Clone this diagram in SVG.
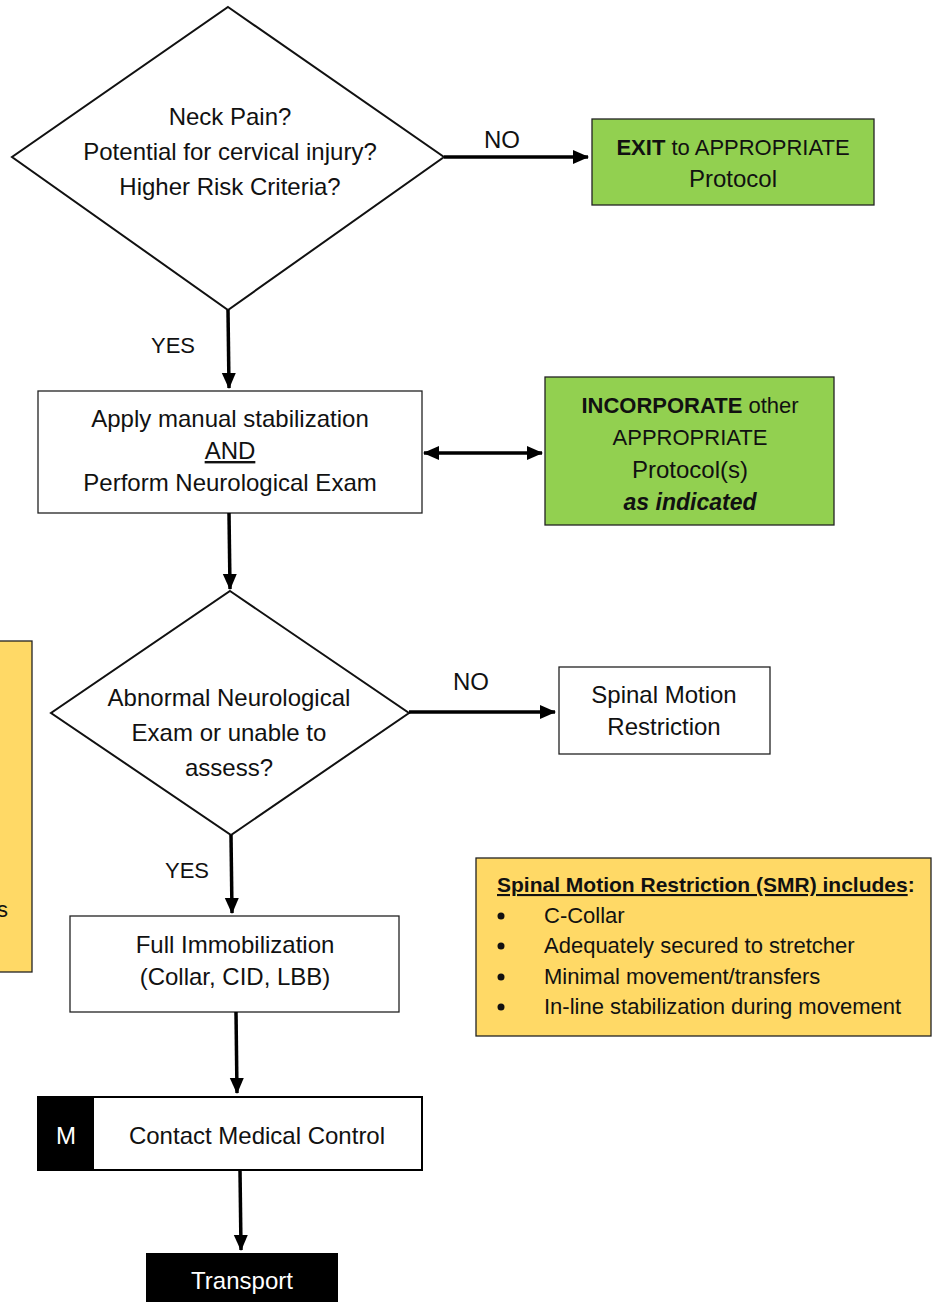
<svg xmlns="http://www.w3.org/2000/svg" width="937" height="1302" viewBox="0 0 937 1302">
<defs>
<marker id="ah" markerUnits="userSpaceOnUse" markerWidth="16" markerHeight="16" viewBox="0 0 16 16" refX="15" refY="8" orient="auto-start-reverse">
<path d="M0,1 L16,8 L0,15 Z" fill="#000"/>
</marker>
<style>
text{font-family:"Liberation Sans",Arial,sans-serif;font-size:24px;fill:#111;}
.c{text-anchor:middle;}
.b{font-weight:bold;}
.w{fill:#fff;}
.u{font-size:22px;}
.l{font-size:22px;}
.t{font-size:21px;}
.i{font-size:23px;font-style:italic;}
.node{stroke:#222;stroke-width:1.3;}
.dia{stroke:#111;stroke-width:2;fill:#fff;}
.white{fill:#fff;}
.green{fill:#92D050;}
.yellow{fill:#FFD966;}
.conn line{stroke:#000;stroke-width:3.5;marker-end:url(#ah);}
</style>
</defs>
<rect width="937" height="1302" fill="#fff"/>

<g id="left-note">
<rect class="node yellow" x="-10" y="641" width="42" height="331"/>
<text x="8" y="917" text-anchor="end" class="l">s</text>
</g>

<g id="q1">
<polygon class="dia" points="228,7 444,157 228,310 12,157"/>
<text class="c" x="230" y="125">Neck Pain?</text>
<text class="c" x="230" y="160">Potential for cervical injury?</text>
<text class="c" x="230" y="195">Higher Risk Criteria?</text>
</g>

<g id="exit">
<rect class="node green" x="592" y="119" width="282" height="86"/>
<text class="c u" x="733" y="155"><tspan class="b">EXIT</tspan> to APPROPRIATE</text>
<text class="c" x="733" y="187">Protocol</text>
</g>

<g id="manual">
<rect class="node white" x="38" y="391" width="384" height="122"/>
<text class="c" x="230" y="427">Apply manual stabilization</text>
<text class="c" x="230" y="459" text-decoration="underline">AND</text>
<text class="c" x="230" y="491">Perform Neurological Exam</text>
</g>

<g id="incorporate">
<rect class="node green" x="545" y="377" width="289" height="148"/>
<text class="c u" x="690" y="413"><tspan class="b">INCORPORATE</tspan> other</text>
<text class="c u" x="690" y="445">APPROPRIATE</text>
<text class="c" x="690" y="478">Protocol(s)</text>
<text class="c b i" x="690" y="510">as indicated</text>
</g>

<g id="q2">
<polygon class="dia" points="230,591 409,713 231,835 51,713"/>
<text class="c" x="229" y="706">Abnormal Neurological</text>
<text class="c" x="229" y="741">Exam or unable to</text>
<text class="c" x="229" y="776">assess?</text>
</g>

<g id="smr">
<rect class="node white" x="559" y="667" width="211" height="87"/>
<text class="c" x="664" y="703">Spinal Motion</text>
<text class="c" x="664" y="735">Restriction</text>
</g>

<g id="smr-note">
<rect class="node yellow" x="476" y="858" width="455" height="178"/>
<text x="497" y="892" class="b t"><tspan text-decoration="underline">Spinal Motion Restriction (SMR) includes</tspan>:</text>
<g>
<circle cx="501" cy="916" r="3.5" fill="#111"/>
<circle cx="501" cy="946" r="3.5" fill="#111"/>
<circle cx="501" cy="977" r="3.5" fill="#111"/>
<circle cx="501" cy="1007" r="3.5" fill="#111"/>
</g>
<text x="544" y="923" class="l">C-Collar</text>
<text x="544" y="953" class="l">Adequately secured to stretcher</text>
<text x="544" y="984" class="l">Minimal movement/transfers</text>
<text x="544" y="1014" class="l">In-line stabilization during movement</text>
</g>

<g id="full">
<rect class="node white" x="70" y="916" width="329" height="96"/>
<text class="c" x="235" y="953">Full Immobilization</text>
<text class="c" x="235" y="985">(Collar, CID, LBB)</text>
</g>

<g id="contact">
<rect x="38" y="1097" width="384" height="73" fill="#fff" stroke="#000" stroke-width="2"/>
<rect x="38" y="1097" width="56" height="73" fill="#000"/>
<text class="c w" x="66" y="1144">M</text>
<text class="c" x="257" y="1144">Contact Medical Control</text>
</g>

<g id="transport">
<rect x="146" y="1253" width="192" height="55" fill="#000"/>
<text class="c w" x="242" y="1289">Transport</text>
</g>

<g class="conn" id="connectors">
<line x1="444" y1="157" x2="588" y2="157"/>
<line x1="228" y1="310" x2="229" y2="388"/>
<line x1="229" y1="513" x2="230" y2="589"/>
<line x1="409" y1="712" x2="555" y2="712"/>
<line x1="231" y1="835" x2="232" y2="913"/>
<line x1="236" y1="1012" x2="237" y2="1093"/>
<line x1="240" y1="1170" x2="241" y2="1250"/>
<line x1="424" y1="453" x2="542" y2="453" marker-start="url(#ah)"/>
<text x="502" y="148" class="c">NO</text>
<text x="173" y="353" class="c u">YES</text>
<text x="471" y="690" class="c">NO</text>
<text x="187" y="878" class="c u">YES</text>
</g>
</svg>
